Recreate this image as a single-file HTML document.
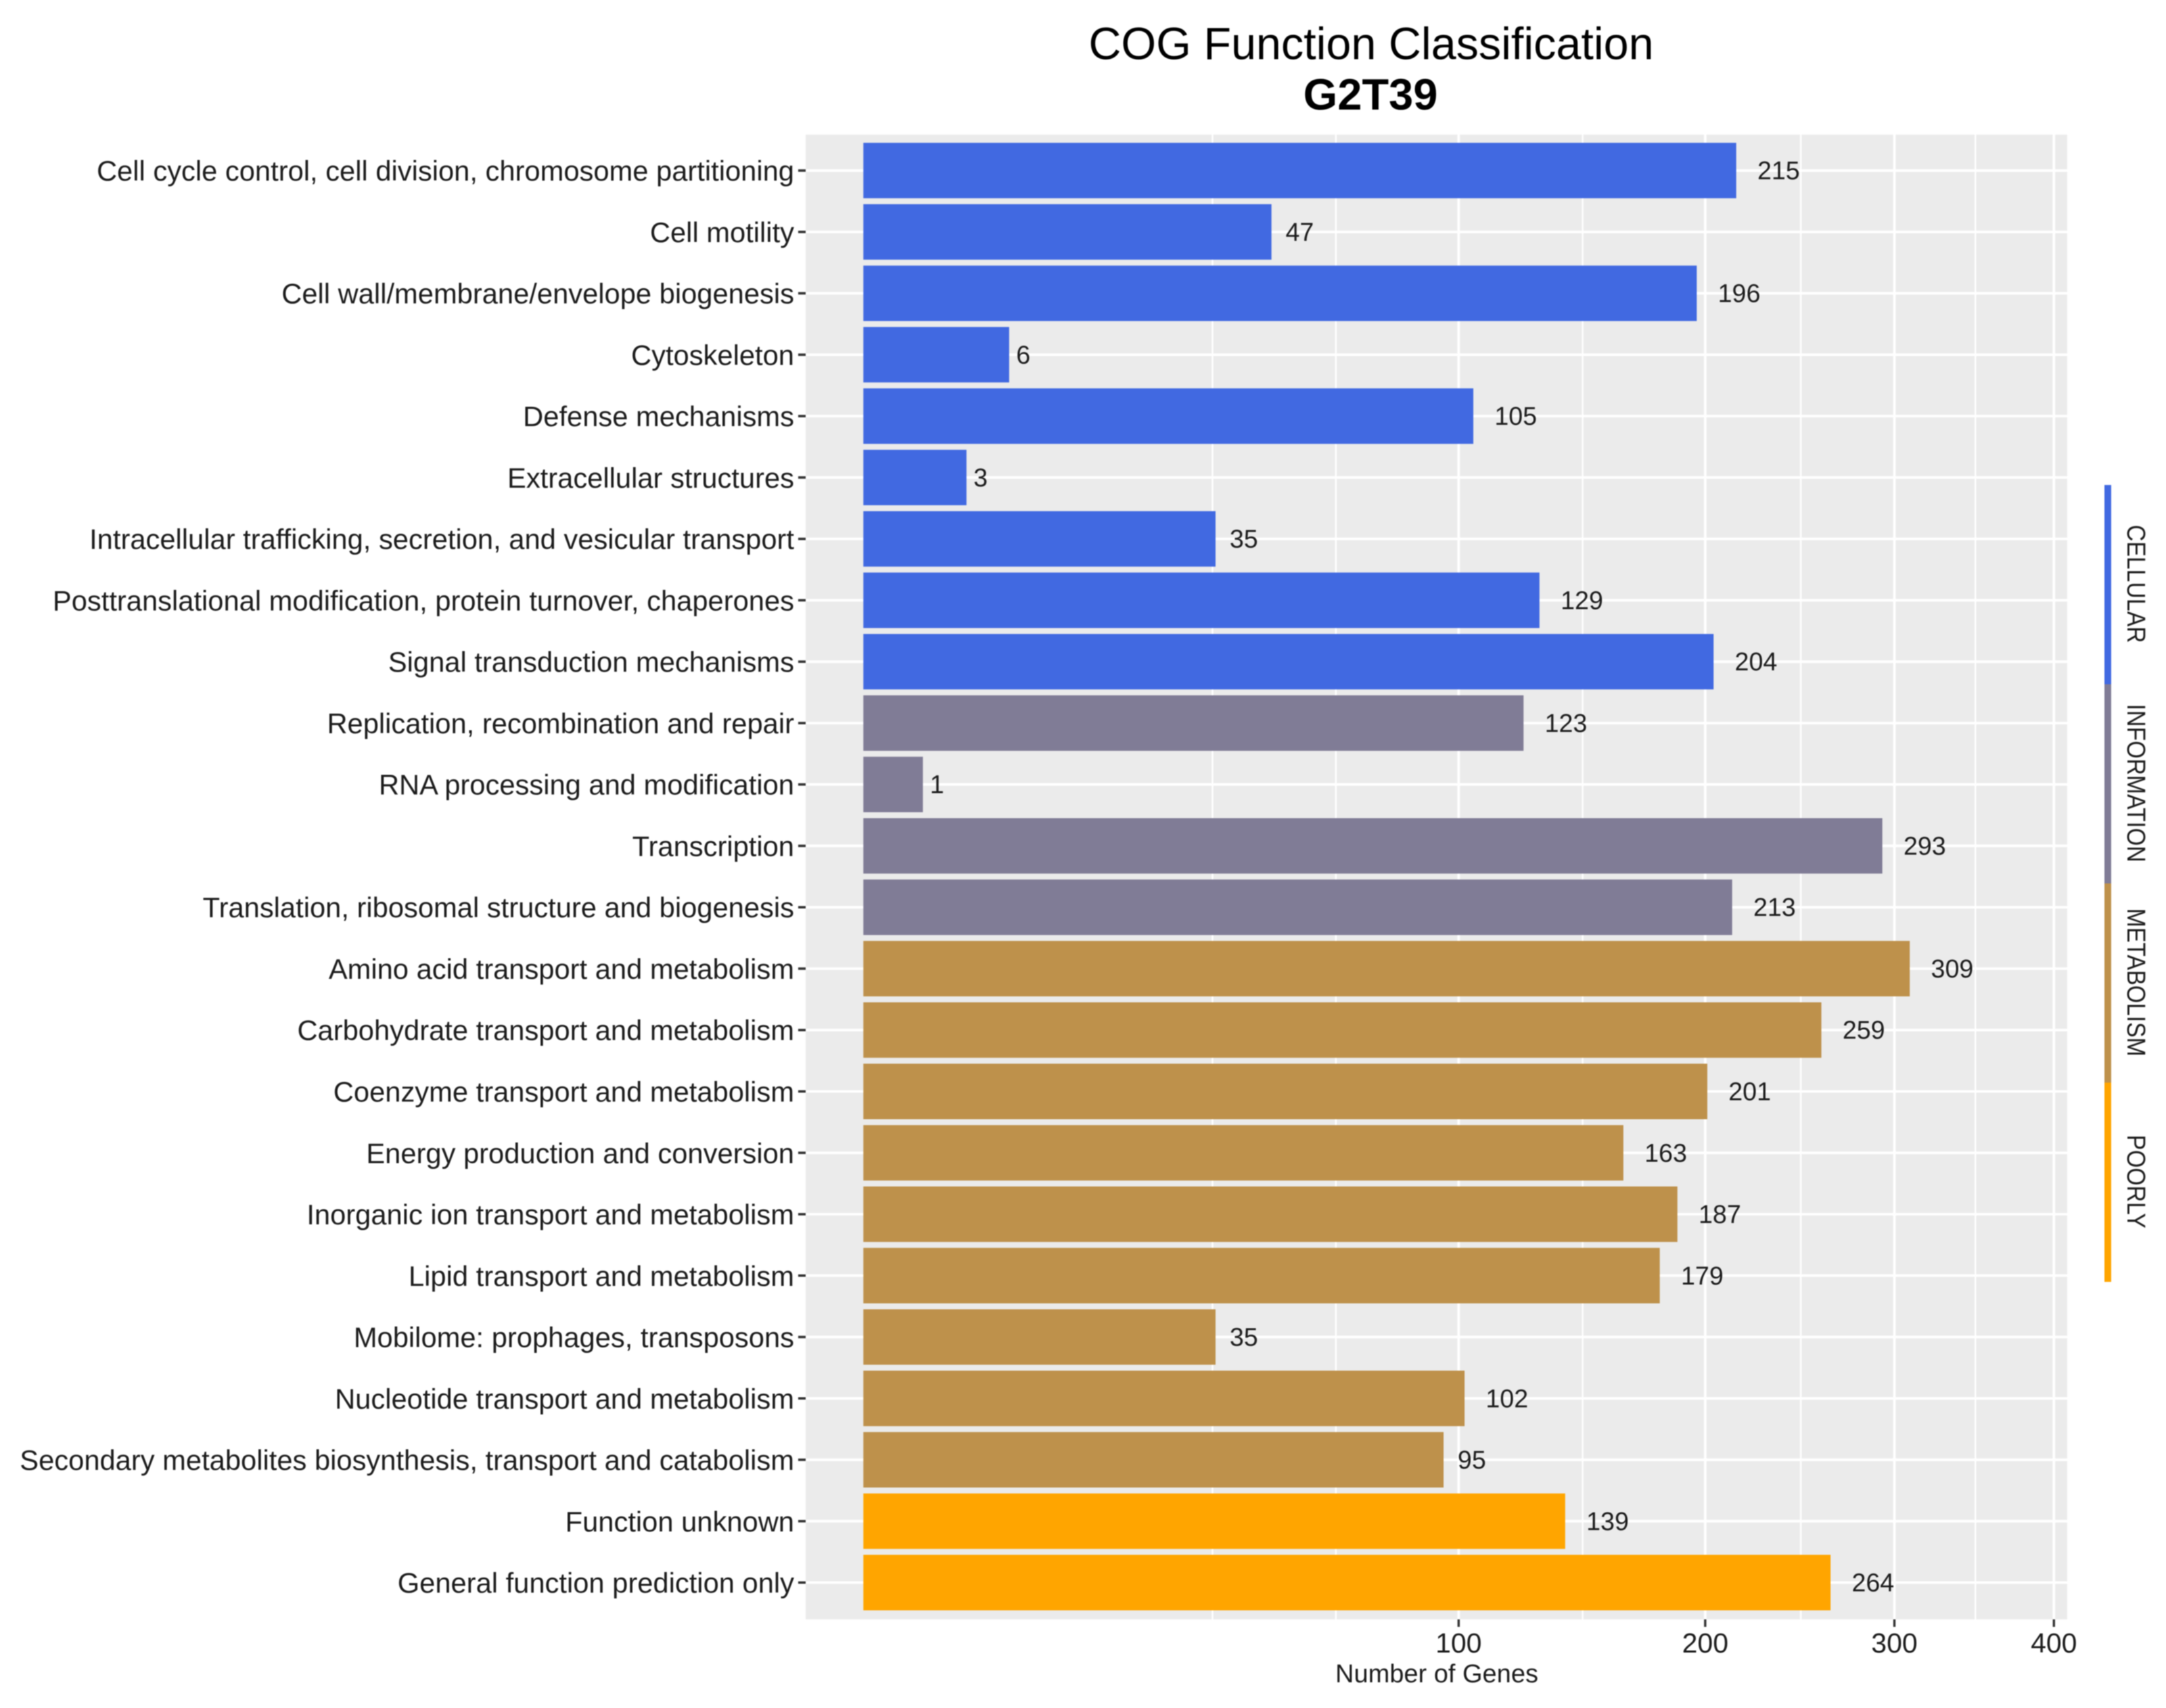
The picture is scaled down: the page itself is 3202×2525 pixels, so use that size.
<!DOCTYPE html>
<html lang="en">
<head>
<meta charset="utf-8">
<title>COG Function Classification</title>
<style>
  html, body { margin: 0; padding: 0; background: #ffffff; }
  svg { display: block; filter: blur(0.9px); }
  text { font-family: "Liberation Sans", Arial, sans-serif; fill: #1c1c1c; }
</style>
</head>
<body>
<svg id="chart" xmlns="http://www.w3.org/2000/svg" width="3202" height="2525" viewBox="0 0 3202 2525">
  <rect x="0" y="0" width="3202" height="2525" fill="#ffffff"/>
  <text x="2027" y="87.5" font-size="66.5" text-anchor="middle" style="fill:#000">COG Function Classification</text>
  <text x="2026" y="162" font-size="65" font-weight="bold" text-anchor="middle" style="fill:#000">G2T39</text>
  <rect x="1191" y="199" width="1865" height="2195" fill="#ebebeb"/>
  <g id="grid"></g>
  <g id="bars"></g>
  <g id="labels"></g>
  <g id="yaxis"></g>
  <g id="xaxis"></g>
  <g id="strips"></g>
  <text x="2124" y="2487" font-size="38" text-anchor="middle">Number of Genes</text>
</svg>
<script>
const categories = [
  "Cell cycle control, cell division, chromosome partitioning",
  "Cell motility",
  "Cell wall/membrane/envelope biogenesis",
  "Cytoskeleton",
  "Defense mechanisms",
  "Extracellular structures",
  "Intracellular trafficking, secretion, and vesicular transport",
  "Posttranslational modification, protein turnover, chaperones",
  "Signal transduction mechanisms",
  "Replication, recombination and repair",
  "RNA processing and modification",
  "Transcription",
  "Translation, ribosomal structure and biogenesis",
  "Amino acid transport and metabolism",
  "Carbohydrate transport and metabolism",
  "Coenzyme transport and metabolism",
  "Energy production and conversion",
  "Inorganic ion transport and metabolism",
  "Lipid transport and metabolism",
  "Mobilome: prophages, transposons",
  "Nucleotide transport and metabolism",
  "Secondary metabolites biosynthesis, transport and catabolism",
  "Function unknown",
  "General function prediction only"
];
const geneCounts = [215, 47, 196, 6, 105, 3, 35, 129, 204, 123, 1, 293, 213, 309, 259, 201, 163, 187, 179, 35, 102, 95, 139, 264];
const groups = ["CELLULAR","CELLULAR","CELLULAR","CELLULAR","CELLULAR","CELLULAR","CELLULAR","CELLULAR","CELLULAR",
  "INFORMATION","INFORMATION","INFORMATION","INFORMATION",
  "METABOLISM","METABOLISM","METABOLISM","METABOLISM","METABOLISM","METABOLISM","METABOLISM","METABOLISM","METABOLISM",
  "POORLY","POORLY"];
const xTicks = [100, 200, 300, 400];
const xMinorBreaks = [34.4, 63, 146, 248, 349];
const stripLabels = ["CELLULAR", "INFORMATION", "METABOLISM", "POORLY"];

const groupColor = {
  CELLULAR: "#4169e1",
  INFORMATION: "#807c96",
  METABOLISM: "#be914b",
  POORLY: "#ffa500"
};

const NS = "http://www.w3.org/2000/svg";
const X0 = 1276.3, X_UNIT = 88;
const Y0 = 252.1, ROW = 90.76, BAR_H = 82;
const PANEL_L = 1191, PANEL_R = 3056, PANEL_T = 199, PANEL_B = 2394;
const STRIP_T = 717, STRIP_H = 294.5;
const VALUE_FS = 37.6;

function xScale(v) { return X0 + Math.sqrt(v) * X_UNIT; }
function yScale(i) { return Y0 + i * ROW; }
function make(tag, attrs, parent) {
  const el = document.createElementNS(NS, tag);
  for (const k in attrs) el.setAttribute(k, attrs[k]);
  parent.appendChild(el);
  return el;
}

const gridG = document.getElementById("grid");
const barsG = document.getElementById("bars");
const labelsG = document.getElementById("labels");
const yG = document.getElementById("yaxis");
const xG = document.getElementById("xaxis");
const stripG = document.getElementById("strips");

xMinorBreaks.forEach(function (v) {
  const el = make("line", { x1: xScale(v), x2: xScale(v), y1: PANEL_T, y2: PANEL_B, stroke: "#ffffff", "stroke-width": 2.4 }, gridG);
  
  
});
xTicks.forEach(function (v) {
  const el = make("line", { x1: xScale(v), x2: xScale(v), y1: PANEL_T, y2: PANEL_B, stroke: "#ffffff", "stroke-width": 3.8 }, gridG);
  
  
});
categories.forEach(function (c, i) {
  const el = make("line", { x1: PANEL_L, x2: PANEL_R, y1: yScale(i), y2: yScale(i), stroke: "#ffffff", "stroke-width": 3.8 }, gridG);
  
  
});

categories.forEach(function (c, i) {
  const y = yScale(i);
  const v = geneCounts[i];
  const right = xScale(v);

  const bar = make("rect", { x: X0, y: y - BAR_H / 2, width: right - X0, height: BAR_H, fill: groupColor[groups[i]] }, barsG);
  
  

  const w = String(v).length * 0.556 * VALUE_FS;
  const label = make("text", { x: right + w * 0.5, y: y + 13, "font-size": VALUE_FS }, labelsG);
  label.textContent = String(v);
  
  

  const tick = make("line", { x1: PANEL_L - 11, x2: PANEL_L, y1: y, y2: y, stroke: "#333333", "stroke-width": 3.6 }, yG);
  
  

  const catLabel = make("text", { x: 1174, y: y + 15, "font-size": 41.7, "text-anchor": "end" }, yG);
  catLabel.textContent = c;
  
  
});

xTicks.forEach(function (v) {
  const tick = make("line", { x1: xScale(v), x2: xScale(v), y1: PANEL_B, y2: PANEL_B + 11, stroke: "#333333", "stroke-width": 3.4 }, xG);
  
  

  const label = make("text", { x: xScale(v), y: 2443, "font-size": 41, "text-anchor": "middle" }, xG);
  label.textContent = String(v);
  
  
});

stripLabels.forEach(function (name, i) {
  const top = STRIP_T + i * STRIP_H;
  const strip = make("rect", { x: 3111, y: top, width: 10, height: STRIP_H, fill: groupColor[name] }, stripG);
  
  

  const cy = top + STRIP_H / 2 - 1;
  const label = make("text", { transform: "translate(3145," + cy + ") rotate(90) scale(1,1.12)", x: 0, y: 0, "font-size": 33.8, "text-anchor": "middle" }, stripG);
  label.textContent = name;
  
  
});
</script>
</body>
</html>
